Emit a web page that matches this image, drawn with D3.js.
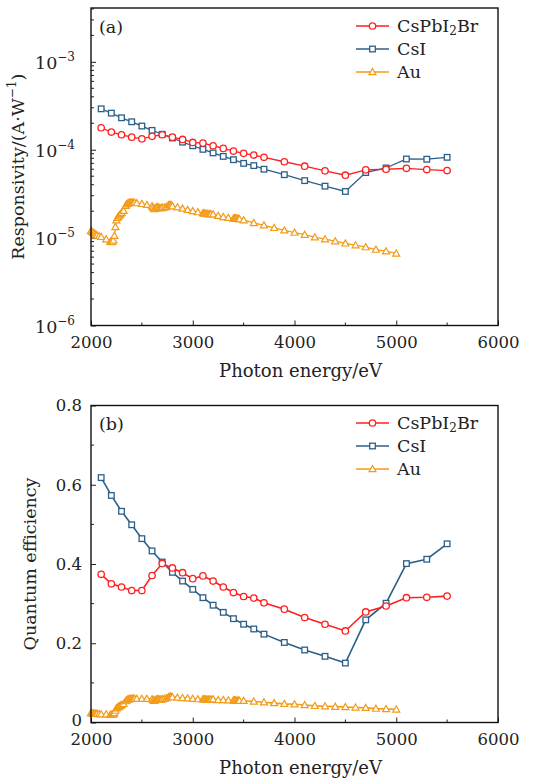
<!DOCTYPE html>
<html>
<head>
<meta charset="utf-8">
<script src="https://cdn.jsdelivr.net/npm/d3@7"></script>
<style>
  body { margin: 0; background: #fff; }
  svg text { font-family: "DejaVu Serif", "Liberation Serif", serif; fill: #222; }
</style>
</head>
<body>
<div id="chart"></div>
<script>
// energies shared by CsPbI2Br and CsI (eV)
const energy = [2100, 2200, 2300, 2400, 2500, 2600, 2700, 2800, 2900, 3000, 3100, 3200, 3300,
  3400, 3500, 3600, 3700, 3900, 4100, 4300, 4500, 4700, 4900, 5100, 5300, 5500];

// responsivity (A/W)
const cspbResp = [1.78e-4, 1.59e-4, 1.48e-4, 1.39e-4, 1.33e-4, 1.42e-4, 1.48e-4, 1.39e-4, 1.31e-4,
  1.21e-4, 1.19e-4, 1.11e-4, 1.035e-4, 9.66e-5, 9.1e-5, 8.7e-5, 8.2e-5, 7.3e-5, 6.5e-5, 5.75e-5,
  5.13e-5, 5.9e-5, 6.0e-5, 6.15e-5, 5.95e-5, 5.8e-5];
const csiResp = [2.92e-4, 2.61e-4, 2.31e-4, 2.08e-4, 1.86e-4, 1.66e-4, 1.5e-4, 1.36e-4, 1.22e-4,
  1.11e-4, 1.01e-4, 9.2e-5, 8.4e-5, 7.7e-5, 7.0e-5, 6.6e-5, 6.0e-5, 5.2e-5, 4.45e-5, 3.85e-5,
  3.35e-5, 5.5e-5, 6.2e-5, 7.85e-5, 7.8e-5, 8.2e-5];

// quantum efficiency
const cspbQE = [0.374, 0.350, 0.342, 0.333, 0.333, 0.371, 0.401, 0.390, 0.378, 0.363, 0.370, 0.357,
  0.342, 0.328, 0.318, 0.314, 0.302, 0.286, 0.265, 0.248, 0.231, 0.279, 0.294, 0.315, 0.316, 0.319];
const csiQE = [0.618, 0.573, 0.533, 0.499, 0.464, 0.433, 0.405, 0.379, 0.357, 0.336, 0.315, 0.296,
  0.278, 0.262, 0.248, 0.236, 0.223, 0.202, 0.183, 0.167, 0.150, 0.259, 0.301, 0.401, 0.412, 0.451];

// Au reference, denser sampling at low energy
const auEnergy = [2000, 2010, 2020, 2030, 2040, 2050, 2060, 2080, 2100, 2150, 2190, 2200, 2210, 2220,
  2230, 2240, 2250, 2260, 2270, 2280, 2290, 2300, 2320, 2340, 2350, 2360, 2370, 2380, 2390, 2400,
  2410, 2420, 2430, 2450, 2500, 2550, 2600, 2610, 2620, 2630, 2640, 2650, 2660, 2670, 2680, 2690,
  2700, 2720, 2740, 2760, 2770, 2780, 2790, 2800, 2850, 2900, 2950, 3000, 3050, 3100, 3110, 3120,
  3130, 3140, 3150, 3160, 3170, 3180, 3200, 3250, 3300, 3350, 3400, 3410, 3420, 3430, 3440, 3450,
  3460, 3500, 3600, 3700, 3800, 3900, 4000, 4100, 4200, 4300, 4400, 4500, 4600, 4700, 4800, 4900, 5000];
const auResp = [1.20e-5, 1.17e-5, 1.14e-5, 1.12e-5, 1.10e-5, 1.08e-5, 1.06e-5, 1.04e-5, 1.02e-5,
  0.96e-5, 0.90e-5, 0.89e-5, 0.90e-5, 0.93e-5, 1.05e-5, 1.32e-5, 1.58e-5, 1.68e-5, 1.75e-5, 1.80e-5,
  1.86e-5, 1.92e-5, 2.02e-5, 2.30e-5, 2.40e-5, 2.44e-5, 2.48e-5, 2.50e-5, 2.51e-5, 2.51e-5, 2.50e-5,
  2.50e-5, 2.49e-5, 2.47e-5, 2.42e-5, 2.36e-5, 2.28e-5, 2.20e-5, 2.12e-5, 2.15e-5, 2.20e-5, 2.24e-5,
  2.21e-5, 2.18e-5, 2.16e-5, 2.17e-5, 2.20e-5, 2.20e-5, 2.24e-5, 2.34e-5, 2.36e-5, 2.36e-5, 2.33e-5,
  2.28e-5, 2.22e-5, 2.14e-5, 2.07e-5, 2.01e-5, 1.95e-5, 1.90e-5, 1.89e-5, 1.88e-5, 1.87e-5, 1.87e-5,
  1.86e-5, 1.86e-5, 1.85e-5, 1.85e-5, 1.84e-5, 1.77e-5, 1.72e-5, 1.68e-5, 1.65e-5, 1.66e-5, 1.66e-5,
  1.65e-5, 1.64e-5, 1.64e-5, 1.62e-5, 1.58e-5, 1.47e-5, 1.38e-5, 1.29e-5, 1.21e-5, 1.14e-5, 1.08e-5,
  1.01e-5, 0.96e-5, 0.91e-5, 0.86e-5, 0.82e-5, 0.78e-5, 0.73e-5, 0.70e-5, 0.66e-5];
const auQE = [0.024, 0.0235, 0.023, 0.023, 0.0225, 0.022, 0.022, 0.0215, 0.021, 0.021, 0.0195, 0.0195,
  0.020, 0.021, 0.024, 0.030, 0.036, 0.038, 0.040, 0.041, 0.043, 0.044, 0.047, 0.054, 0.056, 0.058,
  0.059, 0.059, 0.060, 0.060, 0.060, 0.060, 0.060, 0.060, 0.060, 0.060, 0.059, 0.057, 0.055, 0.056,
  0.058, 0.059, 0.059, 0.058, 0.058, 0.058, 0.059, 0.060, 0.061, 0.064, 0.065, 0.065, 0.065, 0.064,
  0.063, 0.062, 0.061, 0.060, 0.059, 0.059, 0.059, 0.059, 0.058, 0.058, 0.058, 0.058, 0.058, 0.058,
  0.059, 0.057, 0.057, 0.056, 0.056, 0.056, 0.056, 0.055, 0.055, 0.055, 0.055, 0.055, 0.053, 0.051,
  0.049, 0.047, 0.046, 0.044, 0.042, 0.041, 0.040, 0.039, 0.038, 0.037, 0.035, 0.034, 0.033];

const xTicks = [2000, 3000, 4000, 5000, 6000];
const qeTicks = [0, 0.2, 0.4, 0.6, 0.8];
const respDecades = [1e-6, 1e-5, 1e-4, 1e-3];

const colors = { cspb: "#ff1f1f", csi: "#2c5f88", au: "#f39a17" };

const W = 534, H = 778;
const svg = d3.select("#chart").append("svg").attr("width", W).attr("height", H);

const left = 91, right = 498;
const x = d3.scaleLinear().domain([2000, 6000]).range([left, right]);

function drawMarker(g, shape, cx, cy, color) {
  if (shape === "circle") {
    g.append("circle").attr("cx", cx).attr("cy", cy).attr("r", 3.2)
      .attr("fill", "#fff").attr("stroke", color).attr("stroke-width", 1.3);
  } else if (shape === "square") {
    g.append("rect").attr("x", cx - 2.8).attr("y", cy - 2.8).attr("width", 5.6).attr("height", 5.6)
      .attr("fill", "#fff").attr("stroke", color).attr("stroke-width", 1.3);
  } else {
    const s = 3.5;
    g.append("path").attr("d", `M${cx},${cy - s} L${cx + s},${cy + s * 0.75} L${cx - s},${cy + s * 0.75}Z`)
      .attr("fill", "#fff").attr("stroke", color).attr("stroke-width", 1.2);
  }
}

function drawSeries(g, xs, ys, yScale, color, shape, lw) {
  const pts = xs.map((e, i) => [x(e), yScale(ys[i])]);
  g.append("path").attr("d", d3.line()(pts))
    .attr("fill", "none").attr("stroke", color).attr("stroke-width", lw);
  const mg = g.append("g");
  pts.forEach(p => drawMarker(mg, shape, p[0], p[1], color));
}

function drawLegend(g, top) {
  const items = [
    { name: "CsPbI", sub: "2", tail: "Br", color: colors.cspb, shape: "circle" },
    { name: "CsI", color: colors.csi, shape: "square" },
    { name: "Au", color: colors.au, shape: "triangle" }
  ];
  items.forEach((it, i) => {
    const yy = top + i * 23;
    g.append("line").attr("x1", 356).attr("x2", 389).attr("y1", yy).attr("y2", yy)
      .attr("stroke", it.color).attr("stroke-width", 1.4);
    drawMarker(g, it.shape, 372.5, yy, it.color);
    const t = g.append("text").attr("x", 397).attr("y", yy + 6).attr("font-size", 17.5);
    t.append("tspan").text(it.name);
    if (it.sub) {
      t.append("tspan").attr("font-size", 12).attr("dy", 3).text(it.sub);
      t.append("tspan").attr("dy", -3).text(it.tail);
    }
  });
}

function xAxis(top, bottom) {
  const g = svg.append("g").attr("transform", `translate(0,${bottom})`);
  g.call(d3.axisBottom(x).tickValues(xTicks).tickSize(-5).tickPadding(11).tickFormat(d3.format("d")));
  g.select(".domain").remove();
  g.selectAll(".tick line").attr("stroke", "#222");
  g.selectAll(".tick text").attr("font-size", 16.5).attr("font-family", "DejaVu Serif").attr("fill", "#222");
  const minor = [2500, 3500, 4500, 5500];
  minor.forEach(v => svg.append("line").attr("x1", x(v)).attr("x2", x(v))
    .attr("y1", bottom).attr("y2", bottom - 3).attr("stroke", "#222"));
  svg.append("text").attr("x", (left + right) / 2 + 6).attr("y", bottom + 51)
    .attr("text-anchor", "middle").attr("font-size", 18).text("Photon energy/eV");
}

function frame(top, bottom) {
  svg.append("rect").attr("x", left).attr("y", top).attr("width", right - left).attr("height", bottom - top)
    .attr("fill", "none").attr("stroke", "#111").attr("stroke-width", 1.4);
}

// ---- panel (a): responsivity, log scale
{
  const top = 8, bottom = 325.5;
  const y = d3.scaleLog().domain([1e-6, 4.1e-3]).range([bottom, top]);

  const ya = svg.append("g").attr("transform", `translate(${left},0)`);
  ya.call(d3.axisLeft(y).tickValues(respDecades).tickSize(-5).tickPadding(14).tickFormat(() => ""));
  ya.select(".domain").remove();
  ya.selectAll(".tick line").attr("stroke", "#222");
  ya.selectAll(".tick text").each(function(d) {
    const t = d3.select(this).attr("font-size", 17.5).attr("fill", "#222").attr("x", -16).attr("dy", "0.4em");
    t.append("tspan").text("10");
    t.append("tspan").attr("font-size", 12).attr("dy", -8).text("\u2212" + Math.round(-Math.log10(d)));
  });
  // minor log ticks
  const minorVals = [];
  [1e-6, 1e-5, 1e-4, 1e-3].forEach(dec => [2, 3, 4, 5, 6, 7, 8, 9].forEach(m => {
    if (dec * m < 4.1e-3) minorVals.push(dec * m);
  }));
  minorVals.forEach(v => svg.append("line").attr("x1", left).attr("x2", left + 3)
    .attr("y1", y(v)).attr("y2", y(v)).attr("stroke", "#222"));

  xAxis(top, bottom);

  const g = svg.append("g");
  drawSeries(g, auEnergy, auResp, y, colors.au, "triangle", 1.3);
  drawSeries(g, energy, csiResp, y, colors.csi, "square", 1.3);
  drawSeries(g, energy, cspbResp, y, colors.cspb, "circle", 1.3);

  frame(top, bottom);
  drawLegend(svg.append("g"), 26);
  svg.append("text").attr("x", 99).attr("y", 33).attr("font-size", 17.5).text("(a)");

  const yl = svg.append("text").attr("transform", `translate(24,${(top + bottom) / 2}) rotate(-90)`)
    .attr("text-anchor", "middle").attr("font-size", 17.5);
  yl.append("tspan").text("Responsivity/(A\u00b7W");
  yl.append("tspan").attr("font-size", 12).attr("dy", -8).text("\u22121");
  yl.append("tspan").attr("dy", 8).text(")");
}

// ---- panel (b): quantum efficiency
{
  const top = 405.5, bottom = 722.5;
  const y = d3.scaleLinear().domain([0, 0.8]).range([bottom, top]);

  const ya = svg.append("g").attr("transform", `translate(${left},0)`);
  ya.call(d3.axisLeft(y).tickValues(qeTicks).tickSize(-5).tickPadding(9)
    .tickFormat(d => d === 0 ? "0" : d3.format(".1f")(d)));
  ya.select(".domain").remove();
  ya.selectAll(".tick line").attr("stroke", "#222");
  ya.selectAll(".tick text").attr("font-size", 16.5).attr("font-family", "DejaVu Serif").attr("fill", "#222");
  ya.selectAll(".tick text").filter(d => d === 0).attr("dy", "0.2em");
  [0.1, 0.3, 0.5, 0.7].forEach(v => svg.append("line").attr("x1", left).attr("x2", left + 3)
    .attr("y1", y(v)).attr("y2", y(v)).attr("stroke", "#222"));

  xAxis(top, bottom);

  const g = svg.append("g");
  drawSeries(g, auEnergy, auQE, y, colors.au, "triangle", 1.6);
  drawSeries(g, energy, csiQE, y, colors.csi, "square", 1.6);
  drawSeries(g, energy, cspbQE, y, colors.cspb, "circle", 1.6);

  frame(top, bottom);
  drawLegend(svg.append("g"), 423);
  svg.append("text").attr("x", 99).attr("y", 430).attr("font-size", 17.5).text("(b)");

  svg.append("text").attr("transform", `translate(36,${(top + bottom) / 2}) rotate(-90)`)
    .attr("text-anchor", "middle").attr("font-size", 17.5).text("Quantum efficiency");
}
</script>
</body>
</html>
